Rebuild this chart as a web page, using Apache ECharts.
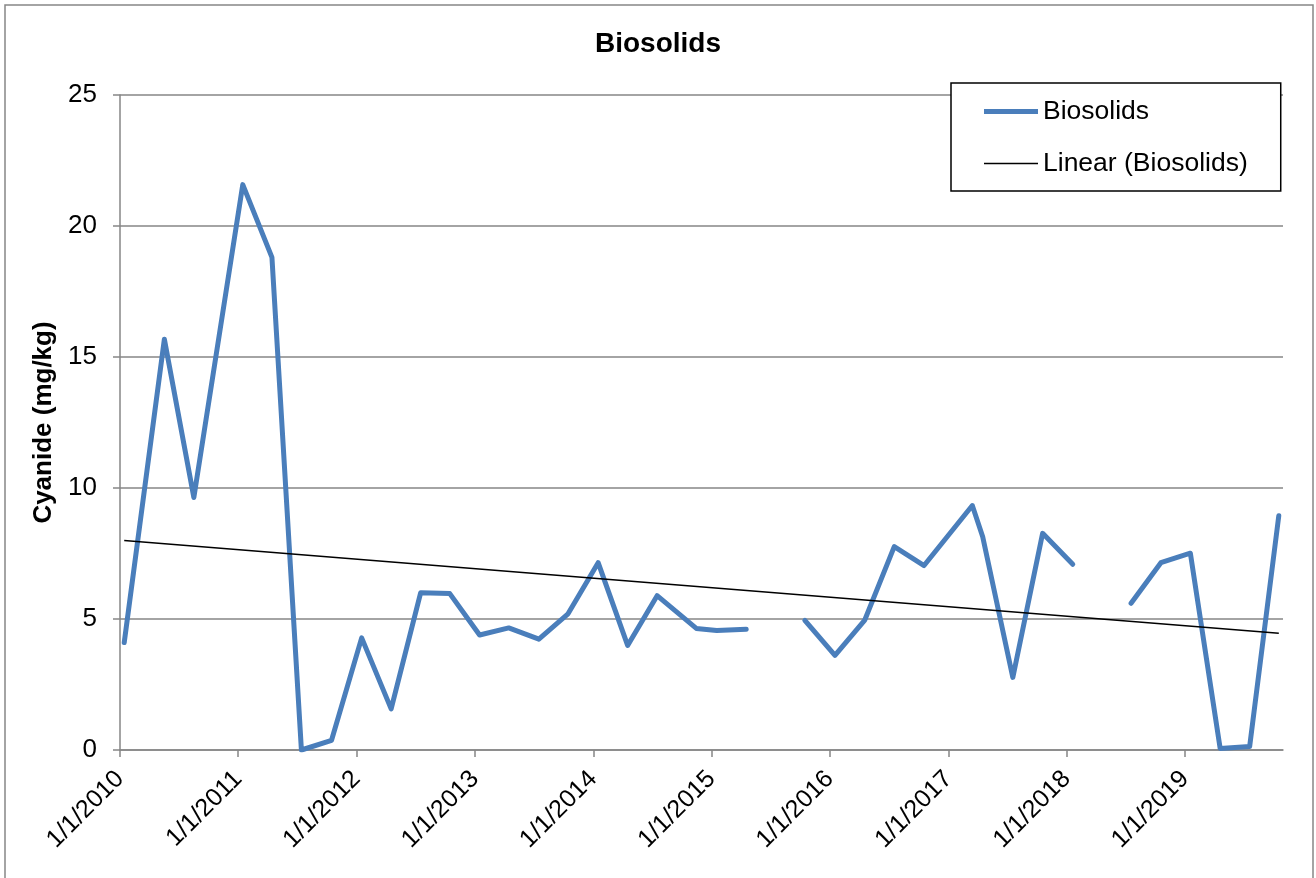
<!DOCTYPE html>
<html>
<head>
<meta charset="utf-8">
<title>Biosolids</title>
<script src="https://cdn.jsdelivr.net/npm/echarts@6/dist/echarts.min.js"></script>
<style>
  html, body { margin: 0; padding: 0; background: #ffffff; }
  #chart { width: 1316px; height: 878px; }
</style>
</head>
<body>
<div id="chart"></div>
<script>
// Sample dates (null value = no sample, which breaks the line)
const sampleDates = [
  '2010-01-14', '2010-05-18', '2010-08-17', '2011-01-15', '2011-04-15',
  '2011-07-15', '2011-10-16', '2012-01-17', '2012-04-17', '2012-07-17',
  '2012-10-15', '2013-01-15', '2013-04-15', '2013-07-17', '2013-10-15',
  '2014-01-16', '2014-04-17', '2014-07-17', '2014-11-15', '2015-01-17',
  '2015-04-18', '2015-07-17', '2015-10-16', '2016-01-17', '2016-04-18',
  '2016-07-18', '2016-10-18', '2017-03-16', '2017-04-17', '2017-07-19',
  '2017-10-19', '2018-01-20', '2018-04-20', '2018-07-19', '2018-10-19',
  '2019-01-18', '2019-04-20', '2019-07-20', '2019-10-18'
];

// Cyanide concentration, mg/kg
const cyanide = [
  4.10, 15.68, 9.64, 21.58, 18.80,
  0.00, 0.37, 4.28, 1.57, 6.00,
  5.97, 4.39, 4.66, 4.23, 5.20,
  7.15, 3.99, 5.89, 4.64, 4.56,
  4.61, null, 4.95, 3.61, 4.96,
  7.76, 7.04, 9.33, 8.14, 2.77,
  8.27, 7.09, null, 5.60, 7.15,
  7.51, 0.06, 0.13, 8.94
];

// Linear trend endpoints
const trendDates = ['2010-01-14', '2019-10-18'];
const trendValues = [8.00, 4.46];

const axisMin = '2010-01-01';
const axisMax = '2019-10-31';
const yTicks = [0, 5, 10, 15, 20, 25];

const FONT = '"Liberation Sans", Arial, sans-serif';
const GRAY = '#868686';
const BLUE = '#4a7ebb';
const FS = 26;

const seriesData = sampleDates.map((d, i) => [d, cyanide[i] === null ? '-' : cyanide[i]]);
const trendData = trendDates.map((d, i) => [d, trendValues[i]]);

const chart = echarts.init(document.getElementById('chart'), null, { renderer: 'canvas' });

const YEAR = 365 * 24 * 3600 * 1000;

chart.setOption({
  animation: false,
  backgroundColor: '#ffffff',
  textStyle: { fontFamily: FONT },
  title: {
    text: 'Biosolids',
    left: 'center',
    top: 25,
    textStyle: { fontFamily: FONT, fontSize: 28, fontWeight: 'bold', color: '#000' }
  },
  graphic: [{
    type: 'rect',
    shape: { x: 5, y: 5, width: 1308, height: 900 },
    style: { fill: 'none', stroke: GRAY, lineWidth: 1.5 },
    silent: true,
    z: -1
  }],
  legend: {
    orient: 'vertical',
    left: 951,
    top: 83,
    padding: [15, 33, 14, 33],
    backgroundColor: '#ffffff',
    borderColor: '#000000',
    borderWidth: 1.5,
    itemWidth: 54,
    itemHeight: 27,
    itemGap: 25,
    symbolKeepAspect: true,
    textStyle: { fontFamily: FONT, fontSize: 26.5, color: '#000', lineHeight: 27 },
    data: [
      { name: 'Biosolids', icon: 'path://M0,0L54,0L54,5L0,5Z', itemStyle: { color: BLUE } },
      { name: 'Linear (Biosolids)', icon: 'path://M0,0L54,0L54,1.5L0,1.5Z', itemStyle: { color: '#000' } }
    ],
    z: 10
  },
  grid: { left: 120, right: 33, top: 95, bottom: 128, containLabel: false },
  xAxis: {
    type: 'time',
    min: axisMin,
    max: axisMax,
    minInterval: YEAR,
    maxInterval: YEAR + 86400000,
    axisLine: { show: true, lineStyle: { color: GRAY, width: 1.5 } },
    axisTick: { show: true, length: 7, lineStyle: { color: GRAY, width: 1.5 } },
    splitLine: { show: false },
    axisLabel: {
      rotate: 45,
      margin: 25,
      fontFamily: FONT,
      fontSize: 25,
      color: '#000',
      formatter: '{M}/{d}/{yyyy}',
      showMinLabel: true,
      showMaxLabel: false,
      hideOverlap: false
    }
  },
  yAxis: {
    type: 'value',
    min: yTicks[0],
    max: yTicks[yTicks.length - 1],
    interval: 5,
    name: 'Cyanide (mg/kg)',
    nameLocation: 'middle',
    nameGap: 56,
    nameTextStyle: { fontFamily: FONT, fontSize: 26, fontWeight: 'bold', color: '#000' },
    axisLine: { show: true, lineStyle: { color: GRAY, width: 1.5 } },
    axisTick: { show: true, length: 7, lineStyle: { color: GRAY, width: 1.5 } },
    splitLine: { show: true, lineStyle: { color: GRAY, width: 1.5 } },
    axisLabel: { margin: 23, fontFamily: FONT, fontSize: FS, color: '#000' }
  },
  series: [
    {
      name: 'Biosolids',
      type: 'line',
      data: seriesData,
      showSymbol: false,
      symbol: 'none',
      connectNulls: false,
      lineStyle: { color: BLUE, width: 5, cap: 'round', join: 'round' },
      itemStyle: { color: BLUE },
      z: 3
    },
    {
      name: 'Linear (Biosolids)',
      type: 'line',
      data: trendData,
      showSymbol: false,
      symbol: 'none',
      lineStyle: { color: '#000', width: 1.5 },
      itemStyle: { color: '#000' },
      z: 4
    }
  ]
});
</script>
</body>
</html>
